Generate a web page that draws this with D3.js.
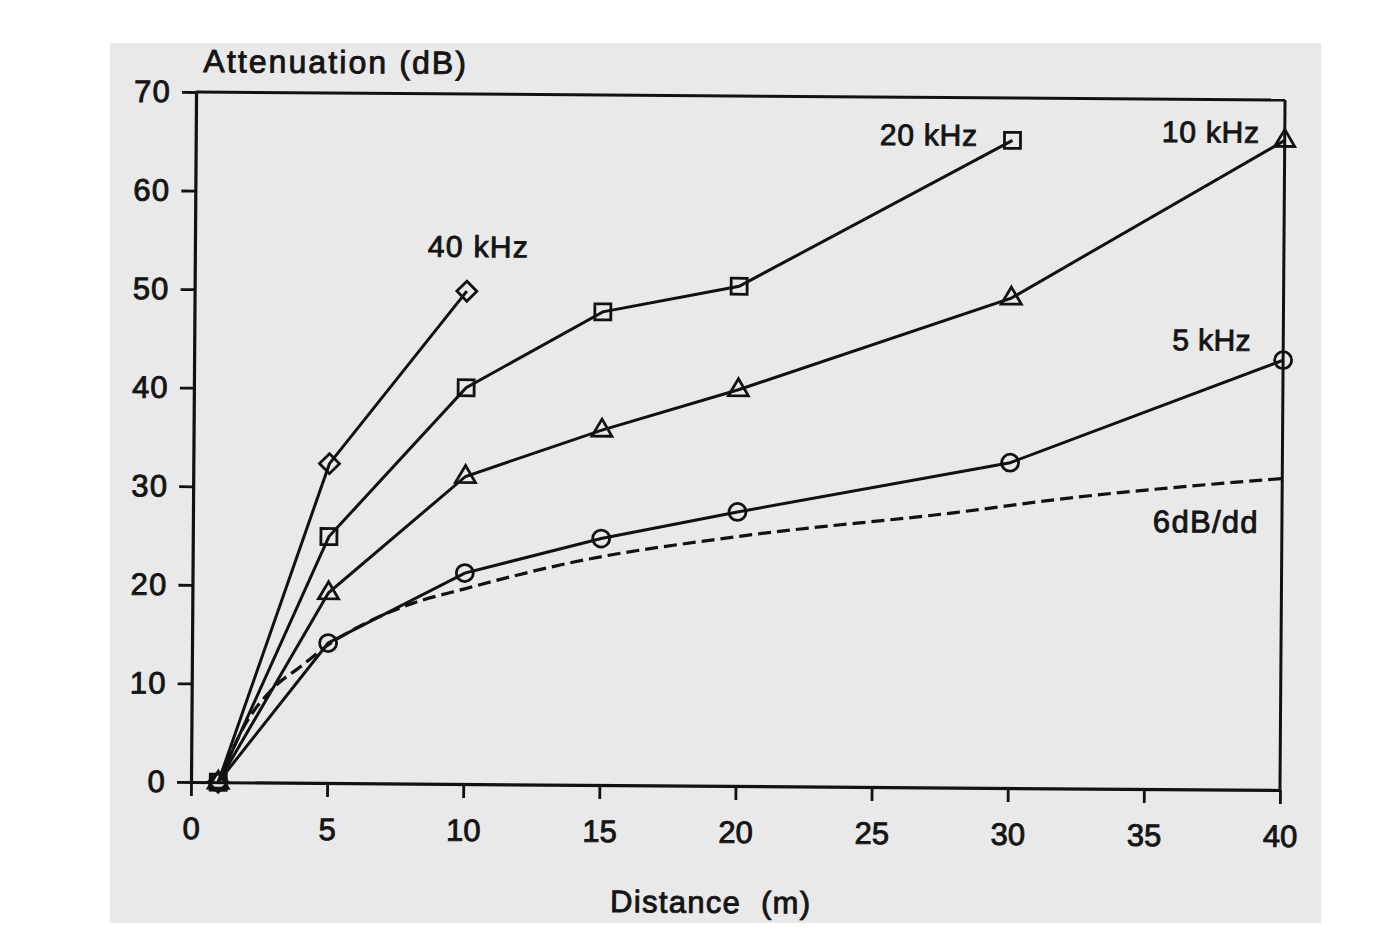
<!DOCTYPE html>
<html>
<head>
<meta charset="utf-8">
<script src="https://cdn.jsdelivr.net/npm/d3@7"></script>
<style>
  html, body { margin: 0; padding: 0; background: #ffffff; }
  svg { display: block; }
  text { font-family: "Liberation Sans", Arial, Helvetica, sans-serif; fill: #141414; }
</style>
</head>
<body>
<svg id="chart" width="1393" height="942"></svg>
<script>
// ---------------- data ----------------
const xTicks = [0, 5, 10, 15, 20, 25, 30, 35, 40];
const yTicks = [0, 10, 20, 30, 40, 50, 60, 70];

const dist40k = [1, 5, 10];
const att40k  = [0, 32.4, 50];

const dist20k = [1, 5, 10, 15, 20, 30];
const att20k  = [0, 25, 40.2, 48, 50.7, 65.7];

const dist10k = [1, 5, 10, 15, 20, 30, 40];
const att10k  = [0, 19.3, 31.2, 36, 40.2, 49.7, 65.9];

const dist5k  = [1, 5, 10, 15, 20, 30, 40];
const att5k   = [0, 14.2, 21.4, 25, 27.8, 33, 43.6];

const distRef = [1, 2, 3, 4, 5, 6, 8, 10, 14, 20, 28, 32, 40];
const attRef  = [0, 6, 9.6, 11.8, 14, 15.7, 18.2, 19.8, 22.6, 25.3, 27.9, 29.4, 31.6];

const seriesNames = ["40 kHz", "20 kHz", "10 kHz", "5 kHz"];
const seriesMarkers = ["diamond", "square", "triangle", "circle"];
const refName = "6dB/dd";
const xTitle = "Distance (m)";
const yTitle = "Attenuation (dB)";

// ---------------- layout ----------------
const svg = d3.select("#chart");
svg.append("rect").attr("x", 110).attr("y", 43).attr("width", 1211).attr("height", 880)
  .attr("fill", "#e9e9e9");

const x = d3.scaleLinear().domain([0, 40]).range([191, 1280]);
const y = d3.scaleLinear().domain([0, 70]).range([782, 92]);

// the scanned figure is slightly rotated clockwise
const g = svg.append("g").attr("transform", `rotate(0.42, ${x(0)}, ${y(0)})`);

const zip = (a, b) => a.map((d, i) => [d, b[i]]);
const series = [
  zip(dist40k, att40k),
  zip(dist20k, att20k),
  zip(dist10k, att10k),
  zip(dist5k, att5k)
];
const refData = zip(distRef, attRef);

// frame: top and right
g.append("line").attr("x1", x(0)).attr("x2", x(40)).attr("y1", y(70)).attr("y2", y(70))
  .attr("stroke", "#111").attr("stroke-width", 3);
g.append("line").attr("x1", x(40)).attr("x2", x(40)).attr("y1", y(70)).attr("y2", y(0))
  .attr("stroke", "#111").attr("stroke-width", 3);

// axes
const xAxis = g.append("g").attr("transform", `translate(0,${y(0)})`)
  .call(d3.axisBottom(x).tickValues(xTicks).tickSize(14).tickSizeOuter(0).tickPadding(21));
const yAxis = g.append("g").attr("transform", `translate(${x(0)},0)`)
  .call(d3.axisLeft(y).tickValues(yTicks).tickSize(14).tickSizeOuter(0).tickPadding(11));

[xAxis, yAxis].forEach(a => {
  a.select(".domain").attr("stroke", "#111").attr("stroke-width", 3.2);
  a.selectAll(".tick line").attr("stroke", "#111").attr("stroke-width", 2.8);
  a.selectAll(".tick text").attr("fill", "#141414")
    .style("font-family", '"Liberation Sans", Arial, sans-serif')
    .attr("stroke", "#141414").attr("stroke-width", 0.9);
});
xAxis.selectAll(".tick text").style("font-size", "31px");
yAxis.selectAll(".tick text").style("font-size", "31px").attr("letter-spacing", 1.2);

// lines
const lineGen = d3.line().x(d => x(d[0])).y(d => y(d[1]));
const curveGen = d3.line().x(d => x(d[0])).y(d => y(d[1])).curve(d3.curveMonotoneX);

g.append("path").datum(refData).attr("d", curveGen)
  .attr("fill", "none").attr("stroke", "#111").attr("stroke-width", 3.2)
  .attr("stroke-dasharray", "13,6");

series.forEach(s => {
  g.append("path").datum(s).attr("d", lineGen)
    .attr("fill", "none").attr("stroke", "#111").attr("stroke-width", 3);
});

// markers
const markerPath = {
  diamond: "M0,-10L10,0L0,10L-10,0Z",
  square: "M-8,-8H8V8H-8Z",
  triangle: "M0,-11L10,6L-10,6Z",
  circle: d3.symbol().type(d3.symbolCircle).size(Math.PI * 8.5 * 8.5)()
};
series.forEach((s, i) => {
  g.selectAll(null).data(s).enter().append("path")
    .attr("d", markerPath[seriesMarkers[i]])
    .attr("transform", d => `translate(${x(d[0])},${y(d[1])})`)
    .attr("fill", "none").attr("stroke", "#111").attr("stroke-width", 2.8);
});

// texts
const txt = (t, px, py, fs, ls) => g.append("text").attr("x", px).attr("y", py)
  .attr("font-size", fs).attr("letter-spacing", ls || 0)
  .attr("stroke", "#141414").attr("stroke-width", 0.9).text(t);

txt(yTitle, 198, 72, 32, 2.1);
txt(seriesNames[0], 424, 255, 30, 1.3);
txt(seriesNames[1], 875, 140, 30, 0.8);
txt(seriesNames[2], 1157, 135, 30, 0.8);
txt(seriesNames[3], 1169, 343, 30, 0.4);
txt(refName, 1151, 525, 31, 1.3);
txt(xTitle, 611, 909, 31, 1.3).attr("word-spacing", 10);
</script>
</body>
</html>
